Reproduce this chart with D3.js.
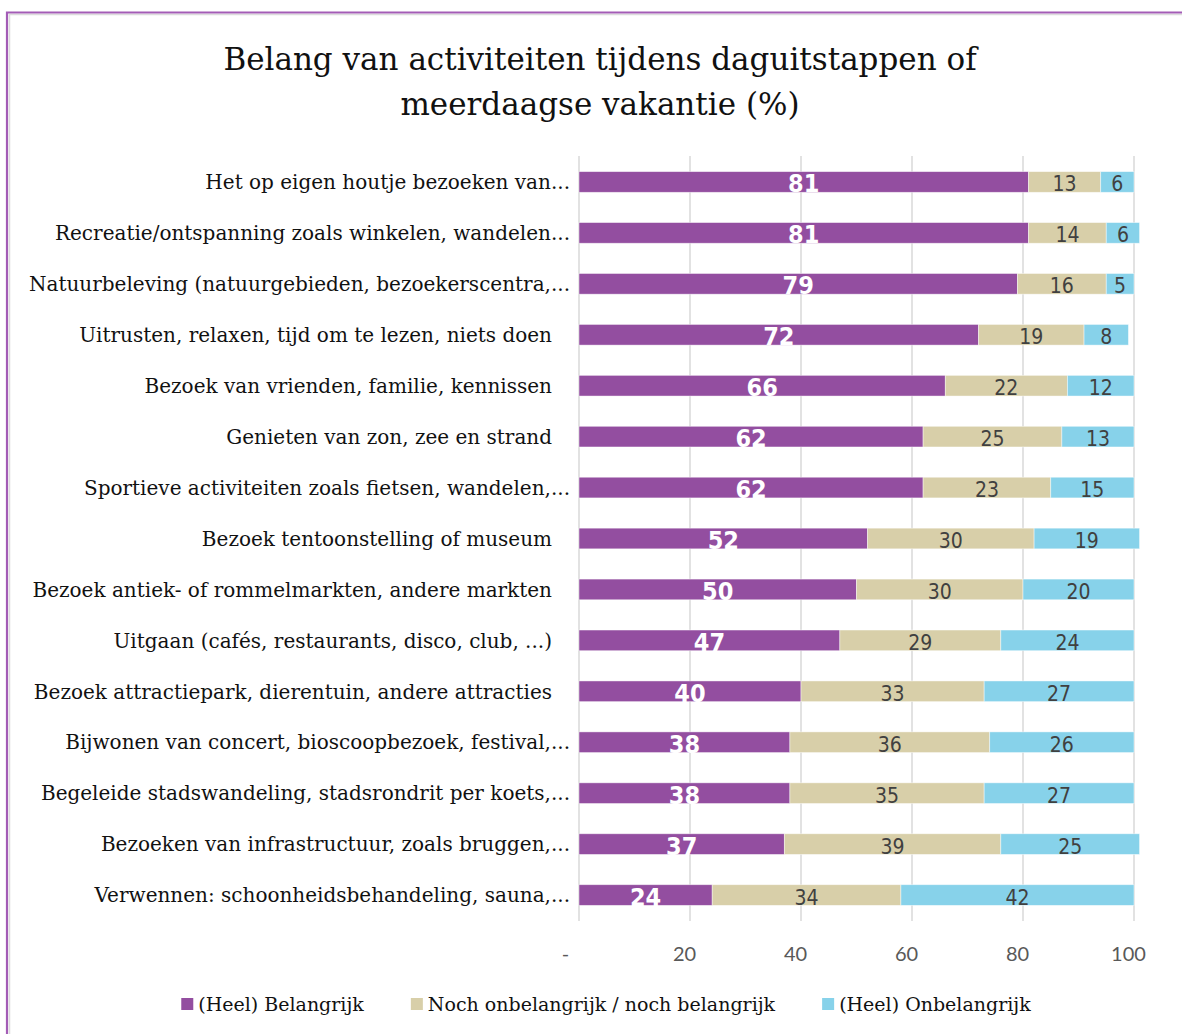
<!DOCTYPE html>
<html>
<head>
<meta charset="utf-8">
<script src="https://cdn.jsdelivr.net/npm/d3@7"></script>
<style>
  body { margin: 0; background: #fff; }
  svg text { white-space: pre; }
</style>
</head>
<body>
<svg id="chart" width="1182" height="1034"></svg>
<script>
// Activities, top to bottom
const categories = [
  "Het op eigen houtje bezoeken van...",
  "Recreatie/ontspanning zoals winkelen, wandelen...",
  "Natuurbeleving (natuurgebieden, bezoekerscentra,...",
  "Uitrusten, relaxen, tijd om te lezen, niets doen",
  "Bezoek van vrienden, familie, kennissen",
  "Genieten van zon, zee en strand",
  "Sportieve activiteiten zoals fietsen, wandelen,...",
  "Bezoek tentoonstelling of museum",
  "Bezoek antiek- of rommelmarkten, andere markten",
  "Uitgaan (cafés, restaurants, disco, club, ...)",
  "Bezoek attractiepark, dierentuin, andere attracties",
  "Bijwonen van concert, bioscoopbezoek, festival,...",
  "Begeleide stadswandeling, stadsrondrit per koets,...",
  "Bezoeken van infrastructuur, zoals bruggen,...",
  "Verwennen: schoonheidsbehandeling, sauna,..."
];

// Percentages per answer group
const belangrijk   = [81, 81, 79, 72, 66, 62, 62, 52, 50, 47, 40, 38, 38, 37, 24];
const neutraal     = [13, 14, 16, 19, 22, 25, 23, 30, 30, 29, 33, 36, 35, 39, 34];
const onbelangrijk = [ 6,  6,  5,  8, 12, 13, 15, 19, 20, 24, 27, 26, 27, 25, 42];

const seriesNames = ["(Heel) Belangrijk", "Noch onbelangrijk / noch belangrijk", "(Heel) Onbelangrijk"];
const xTicks = [0, 20, 40, 60, 80, 100];
const titleLines = ["Belang van activiteiten tijdens daguitstappen of", "meerdaagse vakantie (%)"];

const colors = ["#934ea0", "#d8cfa9", "#87d2ea"];
const labelColors = ["#ffffff", "#404040", "#404040"];

const svg = d3.select("#chart");
const serif = "'DejaVu Serif', serif";
const narrow = "'Liberation Sans Narrow', 'DejaVu Sans Condensed', sans-serif";

// Chart frame
svg.append("path")
  .attr("d", "M9.5,1040 V14.5 H1190")
  .attr("fill", "none").attr("stroke", "#dcdcdc").attr("stroke-width", 1.5);
svg.append("path")
  .attr("d", "M7,1040 V12.5 H1190")
  .attr("fill", "none").attr("stroke", "#a35cb6").attr("stroke-width", 2.2);

// Title
svg.append("text")
  .attr("x", 600).attr("text-anchor", "middle")
  .attr("font-family", serif).attr("font-size", 31).attr("fill", "#111")
  .selectAll("tspan").data(titleLines).join("tspan")
  .attr("x", 600).attr("y", (d, i) => 70 + i * 45)
  .text(d => d);

// Scales
const x = d3.scaleLinear().domain([0, 100]).range([579, 1134]);
const y = d3.scaleBand().domain(categories).range([156.5, 920.5])
  .paddingInner(0.594).paddingOuter(0.297);

// Gridlines
svg.append("g").selectAll("line").data(xTicks).join("line")
  .attr("x1", d => x(d)).attr("x2", d => x(d))
  .attr("y1", 156).attr("y2", 921)
  .attr("stroke", "#d9d9d9").attr("stroke-width", 1.5);

// Value axis labels
const xAxis = d3.axisBottom(x).tickValues(xTicks)
  .tickFormat(d => d === 0 ? "-" : d3.format("d")(d))
  .tickSize(0).tickPadding(0);
const axisG = svg.append("g").attr("transform", "translate(0,946)").call(xAxis);
axisG.select(".domain").remove();
axisG.selectAll("text")
  .attr("font-family", "Lato, sans-serif").attr("font-size", 20)
  .attr("fill", "#595959").attr("dy", "0.74em")
  .attr("dx", d => d === 0 ? -14 : -6);

// Category labels
svg.append("g").selectAll("text").data(categories).join("text")
  .attr("x", 570)
  .attr("dx", d => d.endsWith("...") ? 0 : -18)
  .attr("y", d => y(d) + y.bandwidth() / 2)
  .attr("dy", "0.36em")
  .attr("text-anchor", "end")
  .attr("font-family", serif).attr("font-size", 20).attr("fill", "#111")
  .text(d => d);

// Stacked bars
const rows = categories.map((c, i) => ({ cat: c, b: belangrijk[i], n: neutraal[i], o: onbelangrijk[i] }));
const stack = d3.stack().keys(["b", "n", "o"])(rows);

const layers = svg.append("g").selectAll("g").data(stack).join("g")
  .attr("fill", (d, i) => colors[i]);

layers.selectAll("rect").data(d => d).join("rect")
  .attr("x", d => x(d[0]))
  .attr("y", d => y(d.data.cat))
  .attr("width", d => x(d[1]) - x(d[0]))
  .attr("height", y.bandwidth())
  .attr("stroke", "#ffffff").attr("stroke-opacity", 0.55).attr("stroke-width", 0.8);

// Segment value labels
layers.each(function (layer, li) {
  d3.select(this).selectAll("text").data(layer).join("text")
    .attr("x", d => (x(d[0]) + x(d[1])) / 2)
    .attr("y", d => y(d.data.cat) + y.bandwidth() / 2 + (li === 0 ? 10.5 : 9.5))
    .attr("text-anchor", "middle")
    .attr("font-family", narrow)
    .attr("font-size", li === 0 ? 25 : 21)
    .attr("font-weight", li === 0 ? "bold" : "normal")
    .attr("fill", labelColors[li])
    .text(d => d3.format("d")(d[1] - d[0]));
});

// Legend, centred under the plot
const legend = svg.append("g");
const items = legend.selectAll("g").data(seriesNames).join("g");
items.append("rect")
  .attr("width", 12).attr("height", 12).attr("y", 998)
  .attr("fill", (d, i) => colors[i]);
items.append("text")
  .attr("x", 17).attr("y", 1011)
  .attr("font-family", serif).attr("font-size", 19).attr("fill", "#111")
  .text(d => d);
const widths = [];
items.each(function () { widths.push(17 + this.querySelector("text").getComputedTextLength()); });
const gap = 47;
const total = d3.sum(widths) + gap * (widths.length - 1);
let cursor = 606 - total / 2;
items.attr("transform", (d, i) => {
  const t = `translate(${cursor},0)`;
  cursor += widths[i] + gap;
  return t;
});
</script>
</body>
</html>
